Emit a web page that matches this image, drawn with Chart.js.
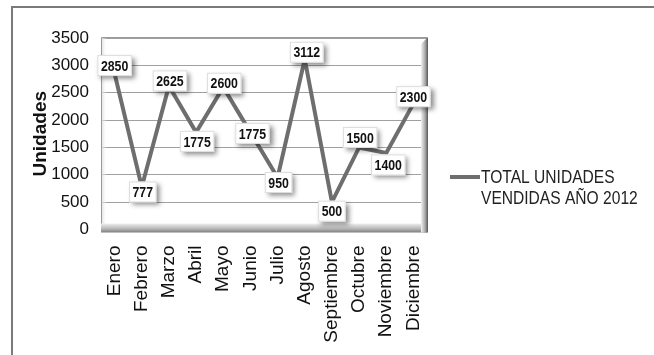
<!DOCTYPE html>
<html lang="es">
<head>
    <meta charset="UTF-8">
    <title>Total unidades vendidas 2012</title>
    <script src="https://cdn.jsdelivr.net/npm/chart.js@4.4.0/dist/chart.umd.min.js"></script>
    <style>
        html, body {
            margin: 0;
            padding: 0;
            background: #fff;
            overflow: hidden;
        }
        .wrap {
            position: relative;
            width: 654px;
            height: 355px;
        }
        /* marco exterior del grafico (solo se ven izquierda y arriba) */
        .marco {
            position: absolute;
            left: 11px;
            top: 6px;
            width: 700px;
            height: 400px;
            border: 2px solid #7a7a7a;
        }
        canvas {
            position: absolute;
            left: 0;
            top: 0;
        }
    </style>
</head>
<body>
<div class="wrap">
    <div class="marco"></div>
    <canvas id="ventas" width="654" height="355"></canvas>
</div>

<script>
    // Datos del grafico
    const meses = ['Enero', 'Febrero', 'Marzo', 'Abril', 'Mayo', 'Junio', 'Julio',
        'Agosto', 'Septiembre', 'Octubre', 'Noviembre', 'Diciembre'];
    const unidades = [2850, 777, 2625, 1775, 2600, 1775, 950, 3112, 500, 1500, 1400, 2300];
    const ticksY = [0, 500, 1000, 1500, 2000, 2500, 3000, 3500];
    const serieNombre = ['TOTAL UNIDADES', 'VENDIDAS AÑO 2012'];

    const sans = "'Liberation Sans', Arial, sans-serif";
    const estrecho = 0.82; // Liberation Sans comprimida ~ Arial Narrow
    const colorLinea = '#6e6e6e';

    // desplazamiento de cada etiqueta respecto a su punto (dx, dy)
    const desplazaEtiqueta = [
        [0, -8], [1, 5], [1, -5], [1, 9], [1, -4], [2, 1],
        [1, 5], [2, -7], [0, 9], [1, -10], [2, 12], [0, -7]
    ];

    function textoEstrecho(ctx, txt, x, y) {
        ctx.save();
        ctx.translate(x, y);
        ctx.scale(estrecho, 1);
        ctx.fillText(txt, 0, 0);
        ctx.restore();
    }

    // caja 3D del area de trazado
    const marcoPlot = {
        id: 'marcoPlot',
        beforeDatasetsDraw(chart) {
            const a = chart.chartArea;
            const ctx = chart.ctx;
            ctx.save();
            // pared izquierda
            let g = ctx.createLinearGradient(a.left, 0, a.left + 6, 0);
            g.addColorStop(0, '#d8d8d8');
            g.addColorStop(1, 'rgba(255,255,255,0)');
            ctx.fillStyle = g;
            ctx.fillRect(a.left, a.top, 6, a.bottom - a.top);
            ctx.strokeStyle = '#9a9a9a';
            ctx.lineWidth = 1;
            ctx.beginPath();
            ctx.moveTo(a.left + 0.5, a.bottom);
            ctx.lineTo(a.left + 0.5, a.top - 0.5);
            ctx.lineTo(a.right, a.top - 0.5);
            ctx.stroke();
            // suelo
            g = ctx.createLinearGradient(0, a.bottom - 6, 0, a.bottom + 3);
            g.addColorStop(0, '#eeeeee');
            g.addColorStop(0.6, '#b5b5b5');
            g.addColorStop(1, '#7d7d7d');
            ctx.fillStyle = g;
            ctx.fillRect(a.left, a.bottom - 6, a.right - a.left, 9);
            // pared derecha
            g = ctx.createLinearGradient(a.right - 6, 0, a.right + 1, 0);
            g.addColorStop(0, '#f2f2f2');
            g.addColorStop(0.6, '#a8a8a8');
            g.addColorStop(1, '#555555');
            ctx.fillStyle = g;
            ctx.beginPath();
            ctx.moveTo(a.right - 6, a.top + 6);
            ctx.lineTo(a.right + 1, a.top - 1);
            ctx.lineTo(a.right + 1, a.bottom + 3);
            ctx.lineTo(a.right - 6, a.bottom + 3);
            ctx.closePath();
            ctx.fill();
            ctx.restore();
        }
    };

    // etiquetas de valor con caja blanca y sombra
    const etiquetas = {
        id: 'etiquetas',
        afterDatasetsDraw(chart) {
            const ctx = chart.ctx;
            const meta = chart.getDatasetMeta(0);
            ctx.save();
            ctx.font = 'bold 15px ' + sans;
            ctx.textAlign = 'center';
            ctx.textBaseline = 'middle';
            meta.data.forEach((pt, i) => {
                const txt = String(unidades[i]);
                const d = desplazaEtiqueta[i];
                const cx = pt.x + d[0];
                const cy = pt.y + d[1];
                const w = ctx.measureText(txt).width * estrecho + 7;
                const h = 21;
                ctx.shadowColor = 'rgba(0,0,0,0.45)';
                ctx.shadowBlur = 5;
                ctx.shadowOffsetX = 3;
                ctx.shadowOffsetY = 3;
                ctx.fillStyle = '#ffffff';
                ctx.fillRect(cx - w / 2, cy - h / 2, w, h);
                ctx.shadowColor = 'transparent';
                ctx.strokeStyle = '#dddddd';
                ctx.lineWidth = 1;
                ctx.strokeRect(cx - w / 2 + 0.5, cy - h / 2 + 0.5, w - 1, h - 1);
                ctx.fillStyle = '#111111';
                textoEstrecho(ctx, txt, cx, cy + 1);
            });
            ctx.restore();
        }
    };

    // leyenda a la derecha
    const leyenda = {
        id: 'leyenda',
        afterDraw(chart) {
            const ctx = chart.ctx;
            ctx.save();
            ctx.strokeStyle = colorLinea;
            ctx.lineWidth = 4;
            ctx.beginPath();
            ctx.moveTo(450, 177);
            ctx.lineTo(480, 177);
            ctx.stroke();
            ctx.font = '19px ' + sans;
            ctx.fillStyle = '#222222';
            ctx.textBaseline = 'middle';
            serieNombre.forEach((t, i) => textoEstrecho(ctx, t, 481, 178 + i * 21));
            ctx.restore();
        }
    };

    new Chart(document.getElementById('ventas'), {
        type: 'line',
        data: {
            labels: meses,
            datasets: [{
                label: serieNombre.join(' '),
                data: unidades,
                borderColor: colorLinea,
                borderWidth: 4,
                pointRadius: 0,
                tension: 0,
                fill: false
            }]
        },
        options: {
            responsive: false,
            animation: false,
            layout: {
                padding: { left: 0, top: 38, right: 227, bottom: 0 }
            },
            plugins: {
                legend: { display: false },
                tooltip: { enabled: false }
            },
            scales: {
                x: {
                    offset: true,
                    afterFit(scale) { scale.height = 125.5; },
                    grid: { display: false, drawTicks: false },
                    border: { display: false },
                    ticks: {
                        autoSkip: false,
                        minRotation: 90,
                        maxRotation: 90,
                        padding: 16,
                        color: '#111111',
                        font: { family: sans, size: 19 }
                    }
                },
                y: {
                    min: 0,
                    max: 3500,
                    afterFit(scale) { scale.width = 101; },
                    afterBuildTicks(scale) {
                        scale.ticks = ticksY.map(v => ({ value: v }));
                    },
                    grid: { color: '#a0a0a0', lineWidth: 1, drawTicks: false },
                    border: { display: false },
                    ticks: {
                        padding: 12,
                        color: '#111111',
                        font: { family: sans, size: 17 },
                        callback: v => String(v)
                    },
                    title: {
                        display: true,
                        text: 'Unidades',
                        color: '#111111',
                        padding: { top: 29, bottom: 0 },
                        font: { family: sans, size: 19, weight: 'bold' }
                    }
                }
            }
        },
        plugins: [marcoPlot, etiquetas, leyenda]
    });
</script>
</body>
</html>
